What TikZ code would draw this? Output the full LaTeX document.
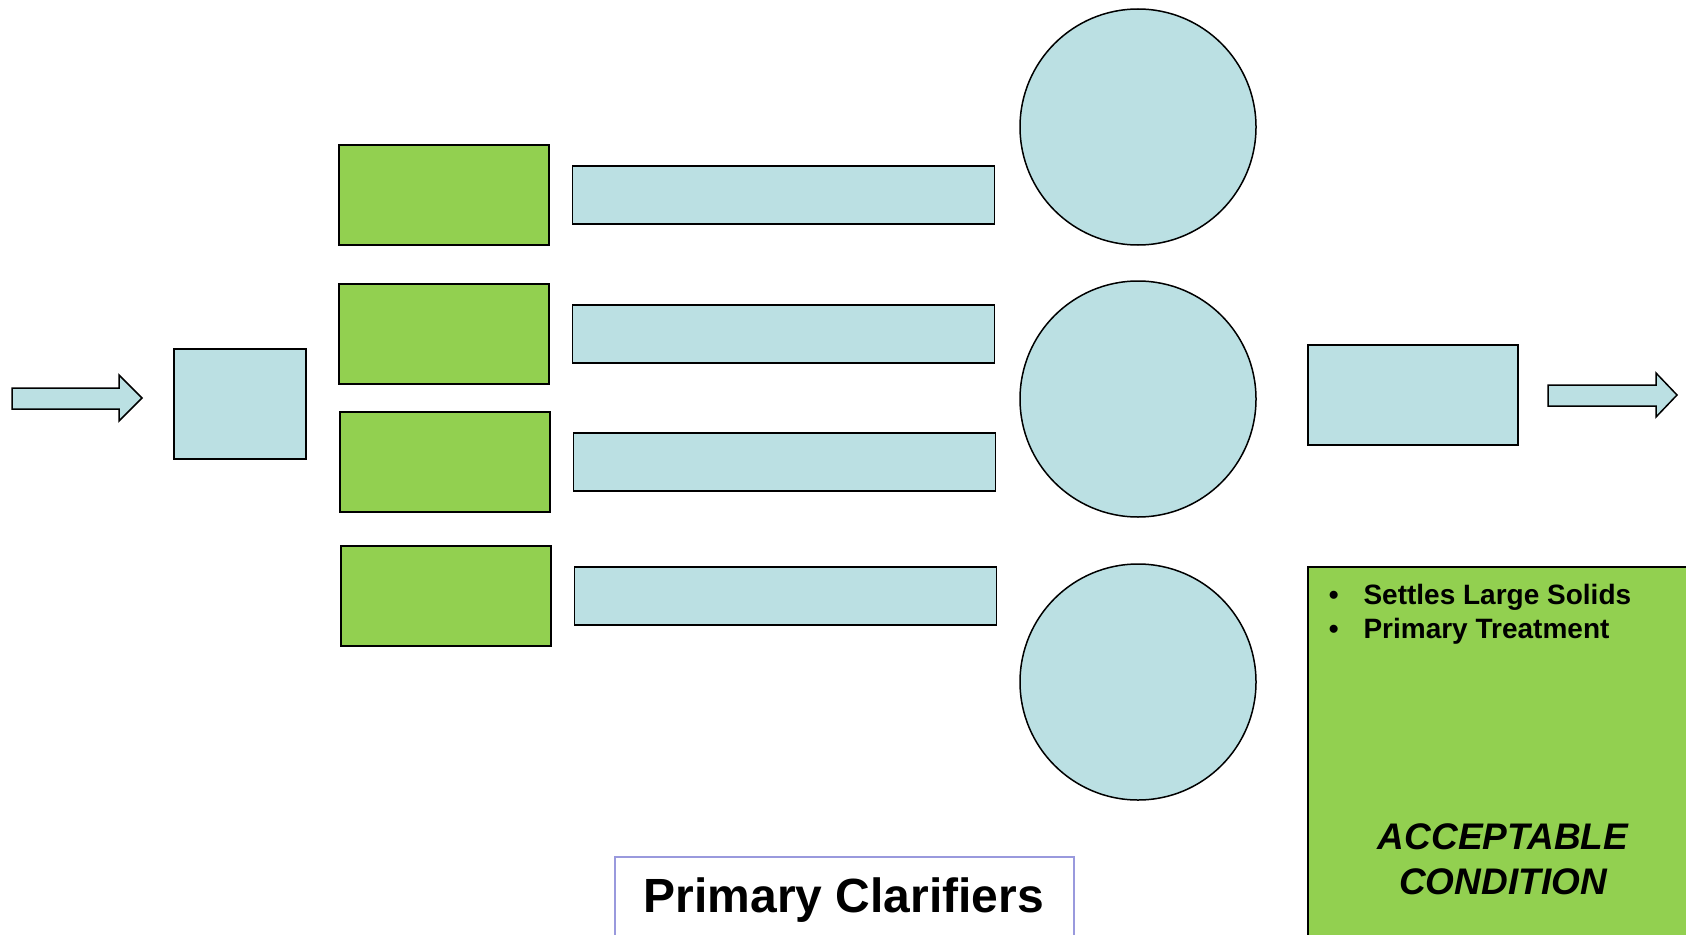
\documentclass[tikz,border=0pt]{standalone}
\usepackage{fontspec}
\setmainfont{Liberation Sans}
\usetikzlibrary{positioning}

\definecolor{plantgreen}{HTML}{92D050}
\definecolor{waterblue}{HTML}{BBE0E3}
\definecolor{framelilac}{HTML}{9999DD}

\tikzset{
  greenbox/.style={rectangle, draw, fill=plantgreen, minimum width=210, minimum height=100, inner sep=0},
  bluebar/.style={rectangle, draw, fill=waterblue, minimum width=422, minimum height=58, inner sep=0},
  basin/.style={circle, draw, fill=waterblue, minimum size=236, inner sep=0},
  blockarrow/.style={draw, fill=waterblue, line join=miter}
}

\begin{document}
\begin{tikzpicture}[x=1pt, y=-1pt, line width=1.5pt, font=\bfseries, node distance=23]
    \useasboundingbox (0,0) rectangle (1686,934);
    \clip (0,0) rectangle (1686,934);

    % inflow and outflow
    \draw[blockarrow] (12,388) -- (119,388) -- (119,375) -- (142,398) -- (119,421) -- (119,409) -- (12,409) -- cycle;
    \draw[blockarrow] (1548,385) -- (1656,385) -- (1656,373) -- (1677,395) -- (1656,417) -- (1656,406) -- (1548,406) -- cycle;

    \node[rectangle, draw, fill=waterblue, minimum width=132, minimum height=110, inner sep=0] (head) at (240,404) {};

    \node[greenbox] (g1) at (444,195) {};
    \node[greenbox] (g2) at (444,334) {};
    \node[greenbox] (g3) at (445,462) {};
    \node[greenbox] (g4) at (446,596) {};

    \node[bluebar, right=22 of g1] (bar1) {};
    \node[bluebar, right=22 of g2] (bar2) {};
    \node[bluebar, right=22 of g3] (bar3) {};
    \node[bluebar, right=22 of g4] (bar4) {};

    \node[basin] (clar1) at (1138,127) {};
    \node[basin] (clar2) at (1138,399) {};
    \node[basin] (clar3) at (1138,682) {};

    \node[rectangle, draw, fill=waterblue, minimum width=210, minimum height=100, inner sep=0] (tank) at (1413,395) {};

    % condition panel
    \draw[fill=plantgreen] (1308,567) rectangle (1700,950);
    \node[anchor=west, inner sep=0, font=\bfseries\fontsize{28}{34}\selectfont] (notes) at (1328,615)
      {\begin{tabular}{@{}l@{\hspace{25pt}}l@{}}\textbullet & Settles Large Solids\\ \textbullet & Primary Treatment\end{tabular}};
    \node[align=center, inner sep=0, font=\bfseries\itshape\fontsize{37}{45}\selectfont] (verdict) at (1503,859)
      {ACCEPTABLE\\CONDITION};

    \draw[framelilac, line width=1.2pt, fill=white] (615,857) rectangle (1074,950);
    \node[font=\bfseries\fontsize{48}{56}\selectfont, inner sep=0] (title) at (844,900) {Primary Clarifiers};
\end{tikzpicture}
\end{document}
